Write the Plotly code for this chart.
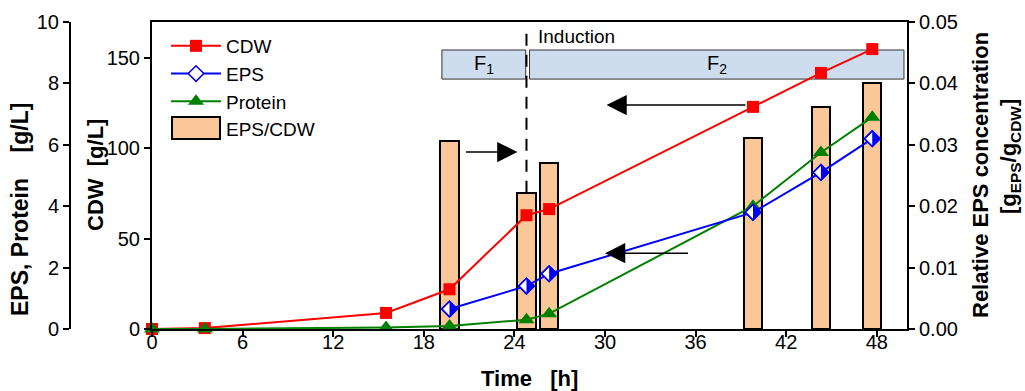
import plotly.graph_objects as go

# ---------------- data ----------------
time_h = [0, 3.5, 15.5, 19.7, 24.8, 26.3, 39.8, 44.3, 47.7]
cdw = [0, 0.5, 8.9, 22, 63, 66.4, 123, 141.8, 155]
protein = [0, 0, 0.05, 0.1, 0.3, 0.5, 4.0, 5.75, 6.9]
eps_time = [19.7, 24.8, 26.3, 39.8, 44.3, 47.7]
eps = [0.65, 1.4, 1.8, 3.8, 5.1, 6.2]
ratio = [0.0306, 0.0222, 0.0270, 0.0311, 0.0361, 0.0400]

x_ticks = [0, 6, 12, 18, 24, 30, 36, 42, 48]
induction_time = 24.8
phase_names = ["F<sub>1</sub>", "F<sub>2</sub>"]
phase_start = [19.2, 25.0]
phase_end = [24.75, 49.8]

W, H = 1025, 391
FONT = "Liberation Sans, Arial, sans-serif"
ORANGE = "#FAC898"
BOXBLUE = "#CEDDED"


def px(xp):
    return xp / W


def py(yp):
    return 1 - yp / H


fig = go.Figure()

# bars on main (right) axis
fig.add_trace(go.Bar(
    x=eps_time, y=ratio, name="EPS/CDW", width=1.2, showlegend=False,
    marker=dict(color=ORANGE, line=dict(color="black", width=2)),
    xaxis="x", yaxis="y",
))

# CDW
fig.add_trace(go.Scatter(
    x=time_h, y=cdw, name="CDW", mode="lines+markers",
    line=dict(color="red", width=2),
    marker=dict(symbol="square", size=12, color="red"),
    xaxis="x", yaxis="y2", cliponaxis=False, legendrank=1,
))

# Protein
fig.add_trace(go.Scatter(
    x=time_h, y=protein, name="Protein", mode="lines+markers",
    line=dict(color="green", width=2),
    marker=dict(symbol="triangle-up", size=14, color="green"),
    xaxis="x", yaxis="y3", cliponaxis=False, legendrank=3,
))

# EPS (half filled diamond = white diamond + right-half triangle + outline)
fig.add_trace(go.Scatter(
    x=eps_time, y=eps, name="EPS", mode="lines+markers",
    line=dict(color="blue", width=2),
    marker=dict(symbol="diamond", size=12, color="white",
                line=dict(color="blue", width=1.5)),
    xaxis="x", yaxis="y3", cliponaxis=False, legendrank=2,
))
fig.add_trace(go.Scatter(
    x=eps_time, y=eps, name="EPS", mode="markers", showlegend=False,
    marker=dict(symbol="triangle-down", size=12, color="blue", angle=270,
                standoff=3, line=dict(width=0)),
    xaxis="x", yaxis="y3", cliponaxis=False, hoverinfo="skip",
))
fig.add_trace(go.Scatter(
    x=eps_time, y=eps, name="EPS", mode="markers", showlegend=False,
    marker=dict(symbol="diamond-open", size=12, color="blue",
                line=dict(color="blue", width=1.5)),
    xaxis="x", yaxis="y3", cliponaxis=False, hoverinfo="skip",
))

# legend entry for the bars (symbol drawn as a wide box below)
fig.add_trace(go.Scatter(
    x=[None], y=[None], name="EPS/CDW", mode="lines",
    line=dict(color="rgba(0,0,0,0)", width=0),
    xaxis="x", yaxis="y", legendrank=4,
))

axis_common = dict(
    showline=True, linecolor="black", linewidth=2,
    ticks="outside", ticklen=6, tickwidth=2, tickcolor="black",
    showgrid=False, zeroline=False,
    tickfont=dict(family=FONT, size=20, color="black"),
)

fig.update_layout(
    width=W, height=H,
    margin=dict(l=0, r=0, t=0, b=0, autoexpand=False),
    paper_bgcolor="white", plot_bgcolor="white",
    font=dict(family=FONT, color="black"),
    bargap=0,
    xaxis=dict(domain=[px(152), px(907)], range=[0, 50],
               tickvals=x_ticks, mirror=True, ticklabelstandoff=-12,
               **axis_common),
    yaxis=dict(domain=[py(329), py(22)], range=[0, 0.05], side="right",
               anchor="x", tickvals=[0, 0.01, 0.02, 0.03, 0.04, 0.05],
               tickformat=".2f", **axis_common),
    yaxis2=dict(range=[0, 170], overlaying="y", side="left", anchor="x",
                tickvals=[0, 50, 100, 150], **axis_common),
    yaxis3=dict(range=[0, 10], overlaying="y", side="left", anchor="free",
                position=px(70), tickvals=[0, 2, 4, 6, 8, 10], **axis_common),
    legend=dict(x=px(166), y=py(27), xanchor="left", yanchor="top",
                bgcolor="rgba(0,0,0,0)", itemwidth=50,
                font=dict(family=FONT, size=19, color="black"),
                tracegroupgap=0),
    showlegend=True,
)

# legend box symbol for EPS/CDW bars
fig.add_shape(type="rect", xref="paper", yref="paper",
              x0=px(172), x1=px(220), y0=py(139), y1=py(117),
              fillcolor=ORANGE, line=dict(color="black", width=2))

# phase boxes
for name, x0, x1 in zip(phase_names, phase_start, phase_end):
    fig.add_shape(type="rect", xref="x", yref="y2", x0=x0, x1=x1,
                  y0=138.4, y1=154.5, fillcolor=BOXBLUE,
                  line=dict(color="#333333", width=1), layer="below")
    fig.add_annotation(x=(x0 + x1) / 2, y=146.5, xref="x", yref="y2",
                       text=name, showarrow=False, xanchor="center",
                       yanchor="middle",
                       font=dict(family=FONT, size=20, color="black"))

# induction dashed line
fig.add_shape(type="line", xref="x", yref="y", x0=induction_time,
              x1=induction_time, y0=ratio[1], y1=0.0495,
              line=dict(color="black", width=2, dash="12px,9px"))
fig.add_annotation(x=25.4, y=161.7, xref="x", yref="y2", text="Induction",
                   showarrow=False, xanchor="left", yanchor="middle",
                   font=dict(family=FONT, size=19, color="black"))

# arrows
arrows = [  # (tail_x, head_x, y_cdw)
    (39.4, 30.1, 124),
    (35.6, 30.0, 42),
    (20.7, 24.2, 98),
]
for tx, hx, yy in arrows:
    fig.add_annotation(x=hx, y=yy, ax=tx, ay=yy, xref="x", yref="y2",
                       axref="x", ayref="y2", showarrow=True, text="",
                       arrowhead=2, arrowsize=2.7, arrowwidth=1.5,
                       arrowcolor="black")

# axis titles
titles = [
    (20, 210, "<b>EPS, Protein    [g/L]</b>", -90, 23),
    (95, 175, "<b>CDW  [g/L]</b>", -90, 22),
    (980, 175, "<b>Relative EPS concentration</b>", -90, 22),
    (1010, 157, "<b>[g<sub>EPS</sub>/g<sub>CDW</sub>]</b>", -90, 22),
    (529, 378, "<b>Time   [h]</b>", 0, 22),
]
for tx, ty, txt, ang, fs in titles:
    fig.add_annotation(x=px(tx), y=py(ty), xref="paper", yref="paper",
                       text=txt, textangle=ang, showarrow=False,
                       xanchor="center", yanchor="middle",
                       font=dict(family=FONT, size=fs, color="black"))

fig.write_html(
    "out.html",
    config={"displayModeBar": False},
    post_script="document.body.style.margin='0';document.body.style.padding='0';",
)
